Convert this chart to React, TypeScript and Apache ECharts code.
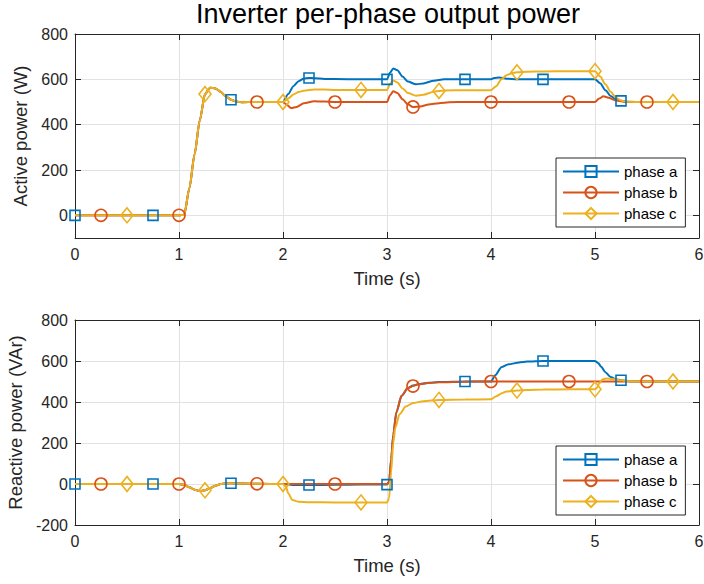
import React, { useEffect, useRef } from "react";
import * as echarts from "echarts";

// ---------- data ----------
const seriesNames = ["phase a", "phase b", "phase c"];
const xTicks = [0, 1, 2, 3, 4, 5, 6];
const activeTicks = [0, 200, 400, 600, 800];
const reactiveTicks = [-200, 0, 200, 400, 600, 800];

const markersA = [0, 0.75, 1.5, 2.25, 3, 3.75, 4.5, 5.25];
const markersB = [0.25, 1, 1.75, 2.5, 3.25, 4, 4.75, 5.5];
const markersC = [0.5, 1.25, 2, 2.75, 3.5, 4.25, 5, 5.75];

// Active power (W): common start-up up to t = 2 s
const activeStartup: number[][] = [
  [0, 0], [0.25, 0], [0.5, 0], [0.75, 0], [1.0, 0], [1.05, 2], [1.1, 120], [1.15, 270],
  [1.2, 420], [1.25, 535], [1.3, 563], [1.35, 560], [1.4, 545], [1.45, 525], [1.5, 510],
  [1.55, 502], [1.6, 499], [1.75, 500], [2.0, 500],
];
const activeA: number[][] = [
  ...activeStartup,
  [2.05, 535], [2.1, 570], [2.15, 592], [2.2, 603], [2.25, 606], [2.3, 605], [2.4, 602],
  [2.5, 601], [2.75, 600], [3.0, 600], [3.03, 630], [3.06, 648], [3.1, 640], [3.15, 612],
  [3.2, 590], [3.28, 578], [3.35, 582], [3.45, 594], [3.55, 600], [3.75, 600], [4.0, 600],
  [4.03, 606], [4.08, 608], [4.15, 603], [4.25, 600], [4.5, 600], [4.75, 600], [5.0, 600],
  [5.05, 583], [5.1, 552], [5.15, 527], [5.2, 512], [5.25, 505], [5.3, 501], [5.5, 500],
  [5.75, 500], [6, 500],
];
const activeB: number[][] = [
  ...activeStartup,
  [2.03, 490], [2.08, 473], [2.13, 478], [2.2, 494], [2.3, 503], [2.4, 502], [2.5, 500],
  [2.75, 500], [3.0, 500], [3.03, 530], [3.06, 547], [3.1, 540], [3.15, 512], [3.2, 490],
  [3.25, 478], [3.32, 480], [3.4, 489], [3.5, 495], [3.6, 499], [3.75, 500], [4.0, 500],
  [4.25, 500], [4.5, 500], [4.75, 500], [5.0, 500], [5.04, 515], [5.08, 525], [5.13, 519],
  [5.2, 507], [5.3, 500], [5.5, 500], [5.75, 500], [6, 500],
];
const activeC: number[][] = [
  ...activeStartup,
  [2.05, 515], [2.1, 533], [2.15, 544], [2.2, 550], [2.3, 555], [2.4, 555], [2.5, 553],
  [2.75, 553], [3.0, 553], [3.03, 580], [3.06, 595], [3.1, 586], [3.15, 560], [3.2, 540],
  [3.28, 528], [3.35, 532], [3.45, 545], [3.5, 549], [3.55, 551], [3.75, 552], [4.0, 552],
  [4.05, 570], [4.1, 600], [4.15, 618], [4.2, 627], [4.25, 631], [4.35, 634], [4.5, 635],
  [4.75, 636], [5.0, 636], [5.05, 612], [5.1, 578], [5.15, 545], [5.2, 520], [5.25, 507],
  [5.3, 501], [5.5, 500], [5.75, 500], [6, 500],
];

// Reactive power (VAr): common start-up up to t = 2 s
const reactiveStartup: number[][] = [
  [0, 0], [0.25, 0], [0.5, 0], [0.75, 0], [1.0, 0], [1.05, -4], [1.1, -16], [1.15, -28],
  [1.2, -34], [1.25, -31], [1.3, -20], [1.35, -8], [1.4, 0], [1.45, 3], [1.5, 4], [1.6, 2],
  [1.75, 1], [2.0, 0],
];
const reactiveA: number[][] = [
  ...reactiveStartup,
  [2.05, -3], [2.1, -5], [2.25, -5], [2.5, -4], [2.75, -3], [3.0, -3], [3.02, 10],
  [3.04, 120], [3.06, 240], [3.09, 350], [3.14, 430], [3.2, 468], [3.25, 480], [3.3, 487],
  [3.4, 494], [3.5, 497], [3.75, 500], [4.0, 500], [4.04, 530], [4.1, 570], [4.17, 584],
  [4.27, 593], [4.35, 597], [4.5, 600], [4.75, 600], [5.0, 600], [5.03, 590], [5.06, 572],
  [5.1, 545], [5.15, 522], [5.2, 511], [5.25, 506], [5.35, 501], [5.5, 500], [5.75, 500],
  [6, 500],
];
const reactiveB: number[][] = [
  ...reactiveStartup,
  [2.05, 0], [2.25, 0], [2.5, 0], [2.75, 0], [3.0, 0], [3.02, 10], [3.04, 120], [3.06, 240],
  [3.09, 350], [3.14, 430], [3.2, 468], [3.25, 478], [3.3, 486], [3.4, 493], [3.5, 496],
  [3.75, 499], [4.0, 500], [4.25, 500], [4.5, 500], [4.75, 500], [5.0, 500], [5.25, 500],
  [5.5, 500], [5.75, 500], [6, 500],
];
const reactiveC: number[][] = [
  ...reactiveStartup,
  [2.03, -15], [2.05, -45], [2.09, -78], [2.15, -87], [2.25, -89], [2.5, -90], [2.75, -90],
  [3.0, -90], [3.02, -70], [3.04, 60], [3.06, 200], [3.08, 275], [3.12, 340], [3.18, 378],
  [3.25, 395], [3.35, 404], [3.5, 410], [3.75, 412], [4.0, 413], [4.05, 428], [4.1, 442],
  [4.15, 451], [4.25, 456], [4.35, 459], [4.5, 461], [4.75, 462], [5.0, 462], [5.02, 470],
  [5.04, 490], [5.07, 510], [5.11, 515], [5.17, 512], [5.25, 506], [5.35, 501], [5.5, 500],
  [5.75, 500], [6, 500],
];

// ---------- styling ----------
const COLORS = ["#0072BD", "#D95319", "#EDB120"];
const FONT = "'Liberation Sans', Arial, Helvetica, sans-serif";
const AXIS_COLOR = "#262626";
const GRID_COLOR = "#e2e2e2";

const symbolDefs: { symbol: string; size: number | number[]; markers: number[] }[] = [
  { symbol: "rect", size: 10, markers: markersA },
  { symbol: "circle", size: 12, markers: markersB },
  { symbol: "diamond", size: [12, 15], markers: markersC },
];

function makeSeries(data: number[][], idx: number, axisIndex: number) {
  const def = symbolDefs[idx];
  return {
    name: seriesNames[idx],
    type: "line",
    xAxisIndex: axisIndex,
    yAxisIndex: axisIndex,
    data,
    smooth: 0.25,
    smoothMonotone: "x",
    showSymbol: true,
    showAllSymbol: true,
    symbol: def.symbol,
    symbolSize: (value: number[]) =>
      def.markers.some((m) => Math.abs(m - value[0]) < 1e-6) ? def.size : 0,
    lineStyle: { color: COLORS[idx], width: 2 },
    itemStyle: { color: "transparent", borderColor: COLORS[idx], borderWidth: 1.6 },
    emphasis: { disabled: true },
    clip: false,
  };
}

function xAxes(gridIndex: number) {
  const common = {
    gridIndex,
    type: "value",
    min: 0,
    max: 6,
    interval: 1,
    axisLine: { show: true, onZero: false, lineStyle: { color: AXIS_COLOR, width: 1 } },
    axisTick: { show: true, inside: true, length: 6, lineStyle: { color: AXIS_COLOR } },
  };
  return [
    {
      ...common,
      position: "bottom",
      axisLabel: {
        show: true,
        fontSize: 16,
        color: AXIS_COLOR,
        fontFamily: FONT,
        margin: 8,
        formatter: (v: number) => (xTicks.includes(v) ? String(v) : ""),
      },
      splitLine: { show: true, lineStyle: { color: GRID_COLOR, width: 1 } },
      name: "Time (s)",
      nameLocation: "middle",
      nameGap: 31,
      nameTextStyle: { fontSize: 18.5, color: AXIS_COLOR, fontFamily: FONT },
    },
    {
      ...common,
      position: "top",
      axisLabel: { show: false },
      splitLine: { show: false },
    },
  ];
}

function yAxes(gridIndex: number, min: number, max: number, ticks: number[], name: string, nameGap: number, custom: boolean) {
  const tickSpec = custom ? { customValues: ticks } : {};
  const common: any = {
    gridIndex,
    type: "value",
    min,
    max,
    axisLine: { show: true, onZero: false, lineStyle: { color: AXIS_COLOR, width: 1 } },
    axisTick: { show: true, inside: true, length: 6, lineStyle: { color: AXIS_COLOR }, ...tickSpec },
  };
  if (!custom) common.interval = 200;
  return [
    {
      ...common,
      position: "left",
      axisLabel: {
        show: true,
        fontSize: 16,
        color: AXIS_COLOR,
        fontFamily: FONT,
        margin: 7,
        ...tickSpec,
      },
      splitLine: { show: true, lineStyle: { color: GRID_COLOR, width: 1 } },
      name,
      nameLocation: "middle",
      nameGap,
      nameTextStyle: { fontSize: 18.5, color: AXIS_COLOR, fontFamily: FONT },
    },
    {
      ...common,
      position: "right",
      axisLabel: { show: false, ...tickSpec },
      splitLine: { show: false },
    },
  ];
}

function legend(top: number) {
  return {
    data: seriesNames,
    orient: "vertical",
    left: 556,
    top,
    itemWidth: 56,
    itemHeight: 14,
    itemGap: 6,
    padding: [6, 8, 6, 6],
    borderColor: AXIS_COLOR,
    borderWidth: 1,
    borderRadius: 0,
    backgroundColor: "#ffffff",
    selectedMode: false,
    textStyle: { fontSize: 15, color: "#000", fontFamily: FONT },
  };
}

const option: any = {
  animation: false,
  backgroundColor: "#ffffff",
  title: {
    text: "Inverter per-phase output power",
    left: 388,
    top: 0,
    padding: 0,
    textAlign: "center",
    textStyle: { fontSize: 27, fontWeight: "normal", color: "#000", fontFamily: FONT },
  },
  grid: [
    { left: 75, top: 34, width: 624, height: 204, containLabel: false, outerBoundsMode: "none" },
    { left: 75, top: 320, width: 624, height: 205, containLabel: false, outerBoundsMode: "none" },
  ],
  xAxis: [...xAxes(0), ...xAxes(1)],
  yAxis: [
    ...yAxes(0, -100, 800, activeTicks, "Active power (W)", 40, true),
    ...yAxes(1, -200, 800, reactiveTicks, "Reactive power (VAr)", 47, false),
  ],
  legend: [legend(158), legend(446)],
  series: [
    makeSeries(activeA, 0, 0),
    makeSeries(activeB, 1, 0),
    makeSeries(activeC, 2, 0),
    makeSeries(reactiveA, 0, 2),
    makeSeries(reactiveB, 1, 2),
    makeSeries(reactiveC, 2, 2),
  ],
};

export default function App() {
  const ref = useRef<HTMLDivElement>(null);
  useEffect(() => {
    if (!ref.current) return;
    const chart = echarts.init(ref.current, null, { renderer: "svg" });
    chart.setOption(option);
    return () => chart.dispose();
  }, []);
  return (
    <div
      ref={ref}
      style={{ position: "fixed", left: 0, top: 0, width: 704, height: 584, background: "#fff" }}
    />
  );
}
